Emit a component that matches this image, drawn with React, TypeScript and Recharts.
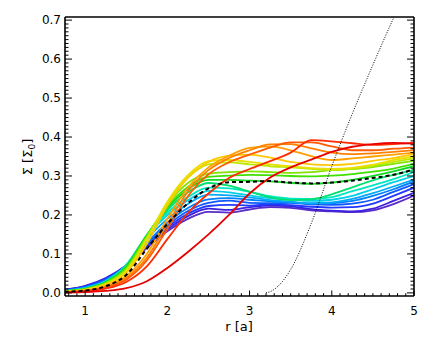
import React from "react";
import { Line, LineChart, XAxis, YAxis } from "recharts";

// radius grid shared by the coloured profiles
const R = [0.75, 1.0, 1.25, 1.5, 1.75, 2.0, 2.25, 2.5, 2.75, 3.0, 3.25, 3.5, 3.75, 4.0, 4.25, 4.5, 4.75, 5.0];

const B1 = [0.008, 0.017, 0.036, 0.068, 0.115, 0.158, 0.19, 0.208, 0.206, 0.214, 0.22, 0.218, 0.212, 0.209, 0.207, 0.212, 0.228, 0.25];
const B2 = [0.008, 0.018, 0.038, 0.071, 0.12, 0.163, 0.197, 0.216, 0.213, 0.22, 0.224, 0.222, 0.215, 0.211, 0.209, 0.216, 0.236, 0.257];
const B3 = [0.007, 0.017, 0.036, 0.07, 0.122, 0.168, 0.203, 0.223, 0.226, 0.224, 0.227, 0.225, 0.221, 0.219, 0.22, 0.229, 0.249, 0.27];
const B4 = [0.006, 0.015, 0.034, 0.069, 0.124, 0.173, 0.21, 0.231, 0.237, 0.231, 0.23, 0.231, 0.227, 0.226, 0.229, 0.239, 0.259, 0.279];
const B5 = [0.006, 0.014, 0.032, 0.069, 0.128, 0.18, 0.218, 0.24, 0.243, 0.239, 0.235, 0.232, 0.229, 0.23, 0.236, 0.249, 0.266, 0.286];
const C1 = [0.005, 0.013, 0.031, 0.071, 0.138, 0.19, 0.228, 0.252, 0.25, 0.245, 0.238, 0.234, 0.23, 0.232, 0.241, 0.256, 0.273, 0.291];
const C2 = [0.005, 0.012, 0.03, 0.072, 0.146, 0.2, 0.238, 0.262, 0.258, 0.25, 0.243, 0.24, 0.236, 0.239, 0.249, 0.266, 0.284, 0.3];
const C3 = [0.005, 0.011, 0.029, 0.071, 0.148, 0.206, 0.246, 0.27, 0.268, 0.259, 0.248, 0.242, 0.241, 0.246, 0.261, 0.276, 0.292, 0.31];
const G1 = [0.005, 0.011, 0.028, 0.069, 0.148, 0.212, 0.258, 0.282, 0.275, 0.26, 0.245, 0.238, 0.24, 0.253, 0.271, 0.289, 0.303, 0.316];
const G2 = [0.004, 0.01, 0.027, 0.067, 0.148, 0.218, 0.266, 0.29, 0.29, 0.288, 0.286, 0.282, 0.28, 0.283, 0.29, 0.3, 0.312, 0.325];
const G3 = [0.004, 0.01, 0.026, 0.065, 0.146, 0.222, 0.272, 0.298, 0.301, 0.303, 0.302, 0.3, 0.299, 0.301, 0.305, 0.311, 0.319, 0.331];
const G4 = [0.004, 0.009, 0.025, 0.062, 0.144, 0.227, 0.282, 0.306, 0.31, 0.312, 0.31, 0.308, 0.31, 0.315, 0.318, 0.323, 0.331, 0.339];
const Y1 = [0.003, 0.008, 0.023, 0.058, 0.14, 0.232, 0.296, 0.33, 0.335, 0.33, 0.325, 0.322, 0.318, 0.315, 0.318, 0.326, 0.336, 0.345];
const Y2 = [0.003, 0.008, 0.022, 0.055, 0.136, 0.234, 0.302, 0.338, 0.341, 0.336, 0.33, 0.325, 0.32, 0.318, 0.321, 0.329, 0.341, 0.35];
const Y3 = [0.003, 0.007, 0.021, 0.051, 0.126, 0.224, 0.296, 0.336, 0.352, 0.355, 0.347, 0.336, 0.33, 0.328, 0.331, 0.339, 0.346, 0.356];
const O1 = [0.002, 0.006, 0.017, 0.043, 0.1, 0.19, 0.27, 0.322, 0.352, 0.372, 0.376, 0.366, 0.351, 0.341, 0.345, 0.35, 0.355, 0.36];
const O2 = [0.002, 0.005, 0.015, 0.038, 0.09, 0.176, 0.26, 0.315, 0.346, 0.366, 0.381, 0.382, 0.371, 0.36, 0.356, 0.358, 0.362, 0.366];
const O3 = [0.002, 0.005, 0.014, 0.034, 0.083, 0.164, 0.248, 0.304, 0.335, 0.355, 0.373, 0.386, 0.386, 0.376, 0.366, 0.366, 0.37, 0.373];
const R1 = [0.002, 0.004, 0.011, 0.028, 0.068, 0.138, 0.205, 0.255, 0.295, 0.318, 0.338, 0.36, 0.392, 0.389, 0.384, 0.38, 0.382, 0.385];
const R2 = [0.001, 0.002, 0.005, 0.012, 0.03, 0.064, 0.105, 0.15, 0.2, 0.255, 0.296, 0.322, 0.342, 0.362, 0.375, 0.382, 0.385, 0.383];

const PROFILES = [B1, B2, B3, B4, B5, C1, C2, C3, G1, G2, G3, G4, Y1, Y2, Y3, O1, O2, O3, R1, R2];
const COLORS = [
  "#5a2cc8", "#3a20e0", "#2038ff", "#1058ff", "#0080ff",
  "#00a8f8", "#00d0e8", "#00e8c0", "#00e070", "#10d820",
  "#40e000", "#80e400", "#bce800", "#e8e000", "#ffc800",
  "#ffa000", "#ff8000", "#ff5a00", "#ff2a00", "#e80000",
];

// mean profile (dashed)
const MEAN = [0.003, 0.006, 0.017, 0.046, 0.113, 0.177, 0.23, 0.268, 0.284, 0.285, 0.287, 0.283, 0.281, 0.283, 0.288, 0.295, 0.303, 0.317];

// steep dotted curve
const DOT_R = [3.2, 3.25, 3.5, 3.75, 4.0, 4.25, 4.5, 4.75, 5.0];
const DOT_V = [0, 0.003, 0.06, 0.178, 0.325, 0.46, 0.585, 0.705, 0.82];

const X_DOM: [number, number] = [0.755, 5];
const Y_DOM: [number, number] = [-0.008, 0.708];

// tick positions: every 0.1 in r, every 0.01 in Σ; majors get labels
const X_TICKS: number[] = [];
for (let i = 8; i <= 50; i++) X_TICKS.push(i / 10);
const Y_TICKS: number[] = [];
for (let i = 0; i <= 70; i++) Y_TICKS.push(i / 100);

const isMajor = (v: number, step: number) => Math.abs(v / step - Math.round(v / step)) < 1e-6;

const toRows = (xs: number[], vs: number[]) => xs.map((r, i) => ({ r, v: vs[i] }));

const FONT = "DejaVu Sans, sans-serif";
const INK = "#000";

function BottomTick({ x, y, payload }: any) {
  const major = isMajor(payload.value, 1);
  return (
    <g>
      <line x1={x} x2={x} y1={y} y2={y - (major ? 5.5 : 2.8)} stroke={INK} />
      {major && (
        <text x={x} y={y + 19} textAnchor="middle" fontFamily={FONT} fontSize={12} fill={INK}>
          {Math.round(payload.value)}
        </text>
      )}
    </g>
  );
}

function TopTick({ x, y, payload }: any) {
  const major = isMajor(payload.value, 1);
  return <line x1={x} x2={x} y1={y} y2={y + (major ? 5.5 : 2.8)} stroke={INK} />;
}

function LeftTick({ x, y, payload }: any) {
  const major = isMajor(payload.value, 0.1);
  return (
    <g>
      <line x1={x} x2={x + (major ? 7 : 3.5)} y1={y} y2={y} stroke={INK} />
      {major && (
        <text x={x - 4} y={y} dy="0.36em" textAnchor="end" fontFamily={FONT} fontSize={12} fill={INK}>
          {payload.value.toFixed(1)}
        </text>
      )}
    </g>
  );
}

function RightTick({ x, y, payload }: any) {
  const major = isMajor(payload.value, 0.1);
  return <line x1={x} x2={x - (major ? 7 : 3.5)} y1={y} y2={y} stroke={INK} />;
}

const boxLine = { stroke: INK, strokeWidth: 1.6 };

export default function App() {
  return (
    <div style={{ position: "absolute", left: 0, top: 0, background: "#fff" }}>
      <LineChart width={436} height={349} margin={{ top: 17, right: 22, bottom: 0, left: 0 }}>
        <XAxis
          xAxisId="b"
          type="number"
          dataKey="r"
          domain={X_DOM}
          allowDataOverflow
          ticks={X_TICKS}
          interval={0}
          tickLine={false}
          tickSize={0}
          tickMargin={0}
          height={53}
          tick={(p: any) => <BottomTick {...p} />}
          axisLine={boxLine}
          label={{
            content: () => (
              <text x={239} y={331} textAnchor="middle" fontFamily={FONT} fontSize={13} fill={INK}>
                r [a]
              </text>
            ),
          }}
        />
        <YAxis
          yAxisId="l"
          type="number"
          domain={Y_DOM}
          allowDataOverflow
          ticks={Y_TICKS}
          interval={0}
          tickLine={false}
          tickSize={0}
          tickMargin={0}
          width={65}
          tick={(p: any) => <LeftTick {...p} />}
          axisLine={boxLine}
          label={{
            content: () => (
              <text
                x={32}
                y={157}
                textAnchor="middle"
                fontFamily={FONT}
                fontSize={13}
                fill={INK}
                transform="rotate(-90 32 157)"
              >
                Σ [Σ
                <tspan fontSize={9} dy={3}>0</tspan>
                <tspan dy={-3}>]</tspan>
              </text>
            ),
          }}
        />
        <XAxis
          xAxisId="t"
          orientation="top"
          type="number"
          domain={X_DOM}
          allowDataOverflow
          ticks={X_TICKS}
          interval={0}
          mirror
          height={1}
          tickLine={false}
          tickSize={0}
          tickMargin={0}
          tick={(p: any) => <TopTick {...p} />}
          axisLine={boxLine}
        />
        <YAxis
          yAxisId="r"
          orientation="right"
          type="number"
          domain={Y_DOM}
          allowDataOverflow
          ticks={Y_TICKS}
          interval={0}
          mirror
          width={1}
          tickLine={false}
          tickSize={0}
          tickMargin={0}
          tick={(p: any) => <RightTick {...p} />}
          axisLine={boxLine}
        />

        {PROFILES.map((p, i) => (
          <Line
            key={i}
            xAxisId="b"
            yAxisId="l"
            data={toRows(R, p)}
            dataKey="v"
            type="monotone"
            stroke={COLORS[i]}
            strokeWidth={1.8}
            dot={false}
            isAnimationActive={false}
          />
        ))}
        <Line
          xAxisId="b"
          yAxisId="l"
          data={toRows(R, MEAN)}
          dataKey="v"
          type="monotone"
          stroke={INK}
          strokeWidth={2}
          strokeDasharray="4 3"
          dot={false}
          isAnimationActive={false}
        />
        <Line
          xAxisId="b"
          yAxisId="l"
          data={toRows(DOT_R, DOT_V)}
          dataKey="v"
          type="monotone"
          stroke={INK}
          strokeWidth={1}
          strokeDasharray="1 1.5"
          dot={false}
          isAnimationActive={false}
        />
      </LineChart>
    </div>
  );
}
